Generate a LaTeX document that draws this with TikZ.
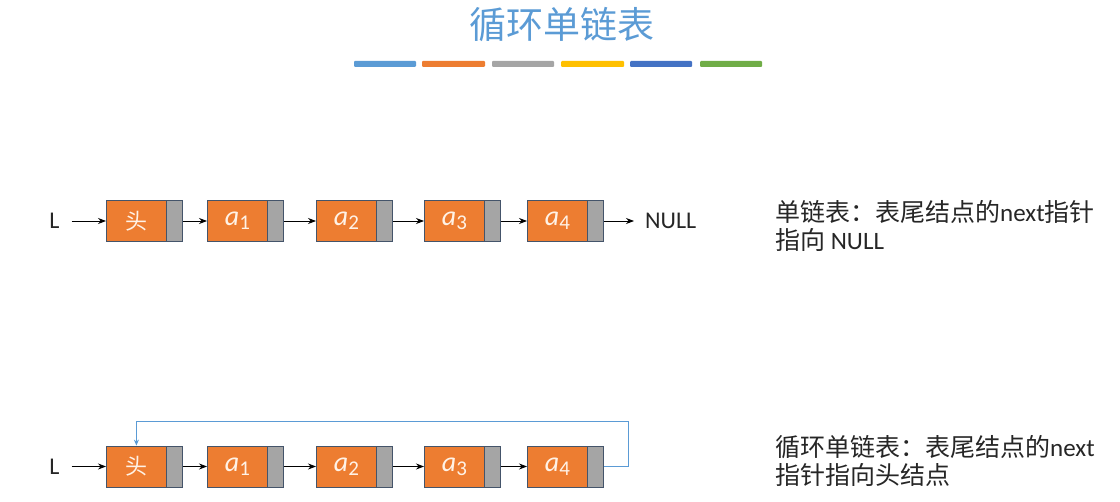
\documentclass[tikz,border=0pt]{standalone}
\usepackage{fontspec}
\setmainfont{Carlito}
\newfontfamily\cjk{Noto Sans CJK SC}
\newfontfamily\lat{Carlito}
\usetikzlibrary{arrows.meta,calc}
\definecolor{ttl}{RGB}{91,155,213}
\definecolor{orng}{RGB}{237,125,49}
\definecolor{gry}{RGB}{165,165,165}
\definecolor{ylw}{RGB}{255,192,0}
\definecolor{blu}{RGB}{68,114,196}
\definecolor{grn}{RGB}{112,173,71}
\definecolor{bord}{RGB}{68,84,106}
\definecolor{txt}{RGB}{38,38,38}
\definecolor{boxtxt}{RGB}{255,242,230}
\newcommand{\lbl}[1]{{\fontsize{28}{28}\selectfont\itshape a}\raisebox{-0.4ex}{\fontsize{21}{21}\selectfont #1}}
\begin{document}
\begin{tikzpicture}[x=1pt,y=-1pt,
  dpart/.style={draw=bord, fill=orng, line width=0.8pt, minimum width=60pt, minimum height=41pt, inner sep=0pt, anchor=west, text=boxtxt, font=\fontsize{22}{22}\selectfont},
  ppart/.style={draw=bord, fill=gry, line width=0.8pt, minimum width=16pt, minimum height=41pt, inner sep=0pt, anchor=west},
  link/.style={-{Stealth[length=8pt,width=6pt]}, line width=0.8pt, black},
  loopline/.style={-{Stealth[length=6pt,width=5pt]}, line width=0.9pt, ttl},
  bar/.style={rounded corners=1pt, draw=none},
  lab/.style={font=\fontsize{24}{24}\selectfont, text=txt, inner sep=0pt},
  note/.style={font=\fontsize{25}{28}\selectfont, text=txt, align=left, anchor=west, inner sep=0pt}]
\useasboundingbox (0,0) rectangle (1120,502);
% title
\node[font=\cjk\fontsize{37}{37}\selectfont, text=ttl] (title) at (562,25) {循环单链表};
% colour bars
\fill[bar, ttl]  (354,61) rectangle (416,67);
\fill[bar, orng] (422,61) rectangle (485,67);
\fill[bar, gry]  (492,61) rectangle (554,67);
\fill[bar, ylw]  (561,61) rectangle (624,67);
\fill[bar, blu]  (630,61) rectangle (692,67);
\fill[bar, grn]  (700,61) rectangle (762,67);
% row 1
\node[lab] (L1) at (54.5,221) {L};
\node[dpart] (h1) at (106,221) {\cjk 头};
\node[ppart] (h1p) at (166,221) {};
\node[dpart] (a1) at (207,221) {\lbl{1}};
\node[ppart] (a1p) at (267,221) {};
\node[dpart] (a2) at (316,221) {\lbl{2}};
\node[ppart] (a2p) at (376,221) {};
\node[dpart] (a3) at (424,221) {\lbl{3}};
\node[ppart] (a3p) at (484,221) {};
\node[dpart] (a4) at (527,221) {\lbl{4}};
\node[ppart] (a4p) at (587,221) {};
\node[lab, anchor=west] (null) at (645,221) {NULL};
\draw[link, shorten <=12pt] (L1) -- (h1);
\draw[link] (h1p.east) -- (a1);
\draw[link] (a1p.east) -- (a2);
\draw[link] (a2p.east) -- (a3);
\draw[link] (a3p.east) -- (a4);
\draw[link, shorten >=11pt] (a4p.east) -- (null.west);
\node[note] (n1) at (775,226) {\cjk 单链表：表尾结点的{\lat next}指针\\\cjk 指向 {\lat NULL}};
% row 2
\node[lab] (L2) at (54.5,466.5) {L};
\node[dpart] (h2) at (106,466.5) {\cjk 头};
\node[ppart] (h2p) at (166,466.5) {};
\node[dpart] (b1) at (207,466.5) {\lbl{1}};
\node[ppart] (b1p) at (267,466.5) {};
\node[dpart] (b2) at (316,466.5) {\lbl{2}};
\node[ppart] (b2p) at (376,466.5) {};
\node[dpart] (b3) at (424,466.5) {\lbl{3}};
\node[ppart] (b3p) at (484,466.5) {};
\node[dpart] (b4) at (527,466.5) {\lbl{4}};
\node[ppart] (b4p) at (587,466.5) {};
\draw[link, shorten <=12pt] (L2) -- (h2);
\draw[link] (h2p.east) -- (b1);
\draw[link] (b1p.east) -- (b2);
\draw[link] (b2p.east) -- (b3);
\draw[link] (b3p.east) -- (b4);
\draw[loopline] (b4p.east) -- ++(25,0) -- ++(0,-45.5) -| (h2.north);
\node[note] (n2) at (775,461) {\cjk 循环单链表：表尾结点的{\lat next}\\\cjk 指针指向头结点};
\end{tikzpicture}
\end{document}
